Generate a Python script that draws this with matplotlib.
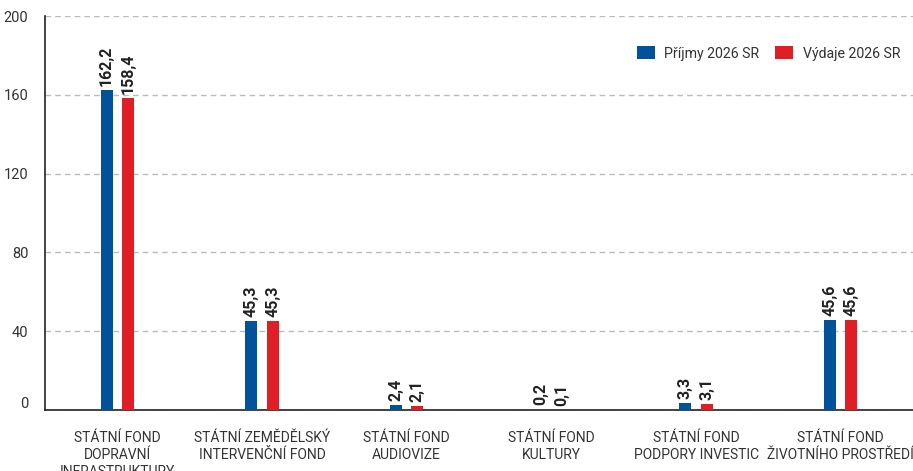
import numpy as np
import matplotlib.pyplot as plt
import matplotlib.transforms as mtransforms

categories = ['STÁTNÍ FOND\nDOPRAVNÍ\nINFRASTRUKTURY', 'STÁTNÍ ZEMĚDĚLSKÝ\nINTERVENČNÍ FOND',
              'STÁTNÍ FOND\nAUDIOVIZE', 'STÁTNÍ FOND\nKULTURY',
              'STÁTNÍ FOND\nPODPORY INVESTIC', 'STÁTNÍ FOND\nŽIVOTNÍHO PROSTŘEDÍ']
prijmy = [162.2, 45.3, 2.4, 0.2, 3.3, 45.6]
vydaje = [158.4, 45.3, 2.1, 0.1, 3.1, 45.6]
yticks = [0, 40, 80, 120, 160, 200]

plt.rcParams['font.family'] = ['Roboto', 'DejaVu Sans']

fig = plt.figure(figsize=(9.13, 4.71), dpi=100)
ax = fig.add_axes([45 / 913, 1 - 410 / 471, 868 / 913, 394 / 471])

x = np.arange(len(categories))
w = 0.083
off = 0.074
b1 = ax.bar(x - off, prijmy, w, color='#00529B', label='Příjmy 2026 SR', zorder=3)
b2 = ax.bar(x + off, vydaje, w, color='#E01E26', label='Výdaje 2026 SR', zorder=3)

def fmt(v):
    return f'{v:.1f}'.replace('.', ',')

for bars, vals in ((b1, prijmy), (b2, vydaje)):
    for b, v in zip(bars, vals):
        ax.annotate(fmt(v), (b.get_x() + b.get_width() / 2, v), xytext=(0, 3),
                    textcoords='offset points', rotation=90, ha='center', va='bottom',
                    fontsize=11.5, fontweight='bold', color='#222222')

ax.set_xlim(-0.5, len(categories) - 0.5)
ax.set_ylim(0, 200)
ax.set_yticks(yticks)
ax.set_yticklabels([str(t) for t in yticks])
ax.yaxis.grid(True, linestyle=(0, (4, 3)), color='#bbbbbb', linewidth=1)
ax.set_axisbelow(True)
ax.tick_params(axis='y', length=0, pad=12, labelsize=10.5, labelcolor='#333333')
ax.tick_params(axis='x', length=0, pad=15, labelsize=10, labelcolor='#333333')
ax.set_xticks(x)
ax.set_xticklabels(categories, linespacing=1.3, va='top')

# shift the "0" label up a little, as in the original
zero_lbl = ax.get_yticklabels()[0]
zero_lbl.set_transform(zero_lbl.get_transform() + mtransforms.ScaledTranslation(0, 7 / 100, fig.dpi_scale_trans))

for s in ('top', 'right'):
    ax.spines[s].set_visible(False)
ax.spines['left'].set_color('#222222')
ax.spines['bottom'].set_color('#222222')
ax.spines['left'].set_linewidth(1.2)
ax.spines['bottom'].set_linewidth(1.2)

ax.legend(loc='upper right', bbox_to_anchor=(1.0, 0.955), ncol=2, frameon=False,
          fontsize=10.2, handlelength=1.25, handleheight=1.0, columnspacing=1.1,
          handletextpad=0.7, labelcolor='#333333')

fig.savefig('out.png', dpi=100)
